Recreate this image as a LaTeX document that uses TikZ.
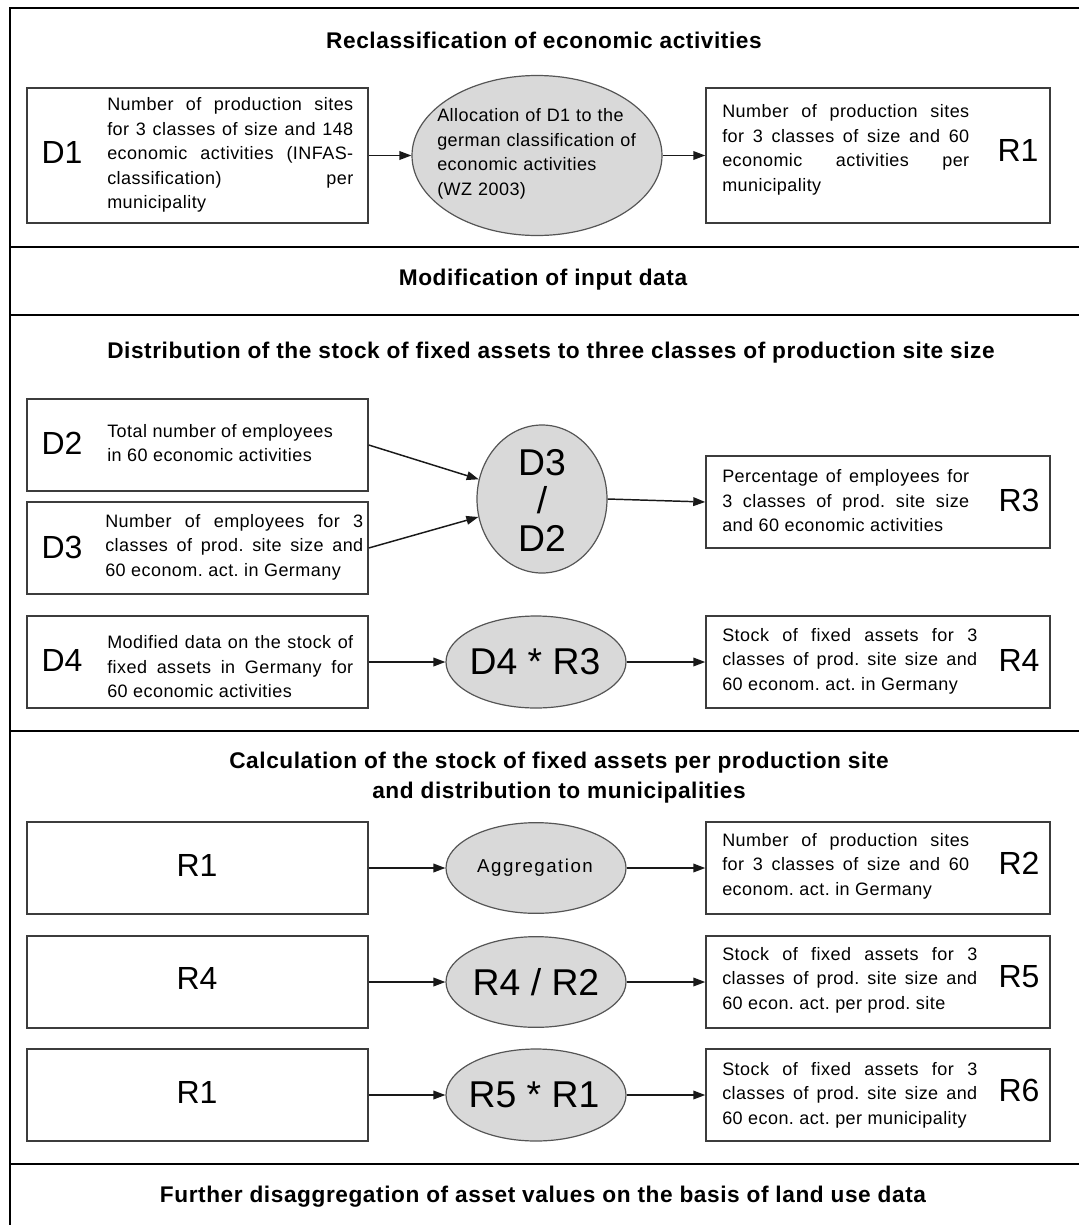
\documentclass[tikz,border=0pt]{standalone}
\usepackage{fontspec}
\setmainfont{Liberation Sans}
\newfontfamily\bodyfont{Liberation Sans}[LetterSpace=2.5]
\newfontfamily\headfont{Liberation Sans}[LetterSpace=2.5]
\newfontfamily\aggfont{Liberation Sans}[LetterSpace=8]
\usetikzlibrary{shapes.geometric,arrows.meta}
\tolerance=10000
\hbadness=10000
\frenchspacing
\definecolor{boxgray}{RGB}{60,60,60}
\definecolor{ellgray}{RGB}{85,85,85}
\definecolor{ellfill}{RGB}{217,217,217}
\definecolor{arrowgray}{RGB}{25,25,25}
\tikzset{
  frameline/.style={line width=2.2pt,black},
  databox/.style={draw=boxgray,line width=1.1pt,inner sep=0pt,minimum height=69pt},
  lbox/.style={databox,minimum width=255.75pt},
  rbox/.style={databox,minimum width=258pt},
  opnode/.style={ellipse,draw=ellgray,fill=ellfill,line width=0.9pt,inner sep=0pt},
  boxtxt/.style={font=\bodyfont\fontsize{13.5}{18.4}\selectfont,text width=184.5pt,align=justify,inner sep=0pt,anchor=west},
  biglab/.style={font=\fontsize{24}{28}\selectfont,inner sep=0pt},
  oplab/.style={font=\fontsize{28}{28.5}\selectfont,inner sep=0pt,align=center},
  headtxt/.style={font=\headfont\bfseries\fontsize{17}{22.5}\selectfont,align=center,inner sep=0pt},
  flow/.style={-{Triangle[length=9pt,width=6.5pt]},line width=1.1pt,draw=arrowgray}
}
\begin{document}
\begin{tikzpicture}[x=0.75pt,y=-0.75pt]
\useasboundingbox (0,0) rectangle (1079,1225);
\draw[frameline] (1079,8) -- (10,8) -- (10,1225);
\draw[frameline] (10,247) -- (1079,247);
\draw[frameline] (10,315) -- (1079,315);
\draw[frameline] (10,731) -- (1079,731);
\draw[frameline] (10,1164) -- (1079,1164);

\node[headtxt] (head1) at (544,40) {Reclassification of economic activities};
\node[headtxt] (head2) at (543,280) {Modification of input data};
\node[headtxt] (head3) at (551,353) {Distribution of the stock of fixed assets to three classes of production site size};
\node[headtxt] (head4) at (559,778) {Calculation of the stock of fixed assets per production site\\and distribution to municipalities};
\node[headtxt] (head5) at (543,1197) {Further disaggregation of asset values on the basis of land use data};

\node[lbox,minimum height=101.25pt] (d1box) at (197.5,155.5) {};
\node[biglab] (d1lab) at (62,152) {D1};
\node[boxtxt] (d1txt) at (107,155) {Number of production sites\linebreak for 3 classes of size and 148\linebreak economic activities (INFAS-\linebreak classification) per\linebreak municipality};
\node[opnode,minimum width=187.5pt,minimum height=120pt] (alloc) at (537,155.5) {};
\node[boxtxt,align=left,text width=170pt] (alloctxt) at (437,154) {Allocation of D1 to the\\german classification of\\economic activities\\(WZ 2003)};
\node[rbox,minimum height=101.25pt] (r1box) at (878,155.5) {};
\node[boxtxt,text width=185.25pt] (r1txt) at (722,150) {Number of production sites\linebreak for 3 classes of size and 60\linebreak economic activities per\linebreak municipality};
\node[biglab] (r1lab) at (1018,150) {R1};
\draw[flow] (d1box) -- (alloc);
\draw[flow] (alloc) -- (r1box);

\node[lbox] (d2box) at (197.5,445) {};
\node[biglab] (d2lab) at (62,443) {D2};
\node[boxtxt] (d2txt) at (107,443) {Total number of employees\\in 60 economic activities};
\node[lbox] (d3box) at (197.5,548) {};
\node[biglab] (d3lab) at (62,547) {D3};
\node[boxtxt,text width=193.5pt] (d3txt) at (105,547) {Number of employees for 3\linebreak classes of prod. site size and\linebreak 60 econom. act. in Germany};
\node[opnode,minimum width=97.5pt,minimum height=111pt] (div32) at (542,499) {};
\node[oplab] (div32lab) at (542,500) {D3\\/\\D2};
\node[rbox] (r3box) at (878,502) {};
\node[boxtxt,text width=185.25pt] (r3txt) at (722,501) {Percentage of employees for\linebreak 3 classes of prod. site size\linebreak and 60 economic activities};
\node[biglab] (r3lab) at (1019,500) {R3};
\draw[flow] (d2box.east) -- (div32);
\draw[flow] (d3box.east) -- (div32);
\draw[flow] (div32.east) -- (r3box.west);

\node[lbox] (d4box) at (197.5,662) {};
\node[biglab] (d4lab) at (62,660) {D4};
\node[boxtxt] (d4txt) at (107,667) {Modified data on the stock of\linebreak fixed assets in Germany for\linebreak 60 economic activities};
\node[opnode,minimum width=135pt,minimum height=69pt] (mul43) at (536,662) {};
\node[oplab] (mul43lab) at (535,662) {D4 * R3};
\node[rbox] (r4box) at (878,662) {};
\node[boxtxt,text width=191.25pt] (r4txt) at (722,661) {Stock of fixed assets for 3\linebreak classes of prod. site size and\linebreak 60 econom. act. in Germany};
\node[biglab] (r4lab) at (1019,660) {R4};
\draw[flow] (d4box) -- (mul43);
\draw[flow] (mul43) -- (r4box);

\node[lbox] (r1boxb) at (197.5,868) {};
\node[biglab] (r1labb) at (197,865) {R1};
\node[opnode,minimum width=135pt,minimum height=68pt] (aggr) at (536,868) {};
\node[inner sep=0pt,font=\aggfont\fontsize{14}{16}\selectfont] (aggrlab) at (535,868) {Aggregation};
\node[rbox] (r2box) at (878,868) {};
\node[boxtxt,text width=185.25pt] (r2txt) at (722,866) {Number of production sites\linebreak for 3 classes of size and 60\linebreak econom. act. in Germany};
\node[biglab] (r2lab) at (1019,863) {R2};
\draw[flow] (r1boxb) -- (aggr);
\draw[flow] (aggr) -- (r2box);

\node[lbox] (r4boxb) at (197.5,982) {};
\node[biglab] (r4labb) at (197,978) {R4};
\node[opnode,minimum width=135pt,minimum height=68pt] (div42) at (536,982) {};
\node[oplab] (div42lab) at (536,982) {R4 / R2};
\node[rbox] (r5box) at (878,982) {};
\node[boxtxt,text width=191.25pt] (r5txt) at (722,980) {Stock of fixed assets for 3\linebreak classes of prod. site size and\linebreak 60 econ. act. per prod. site};
\node[biglab] (r5lab) at (1019,977) {R5};
\draw[flow] (r4boxb) -- (div42);
\draw[flow] (div42) -- (r5box);

\node[lbox] (r1boxc) at (197.5,1095) {};
\node[biglab] (r1labc) at (197,1092) {R1};
\node[opnode,minimum width=135pt,minimum height=69pt] (mul51) at (536,1095) {};
\node[oplab] (mul51lab) at (534,1095) {R5 * R1};
\node[rbox] (r6box) at (878,1095) {};
\node[boxtxt,text width=191.25pt] (r6txt) at (722,1095) {Stock of fixed assets for 3\linebreak classes of prod. site size and\linebreak 60 econ. act. per municipality};
\node[biglab] (r6lab) at (1019,1090) {R6};
\draw[flow] (r1boxc) -- (mul51);
\draw[flow] (mul51) -- (r6box);
\end{tikzpicture}
\end{document}
